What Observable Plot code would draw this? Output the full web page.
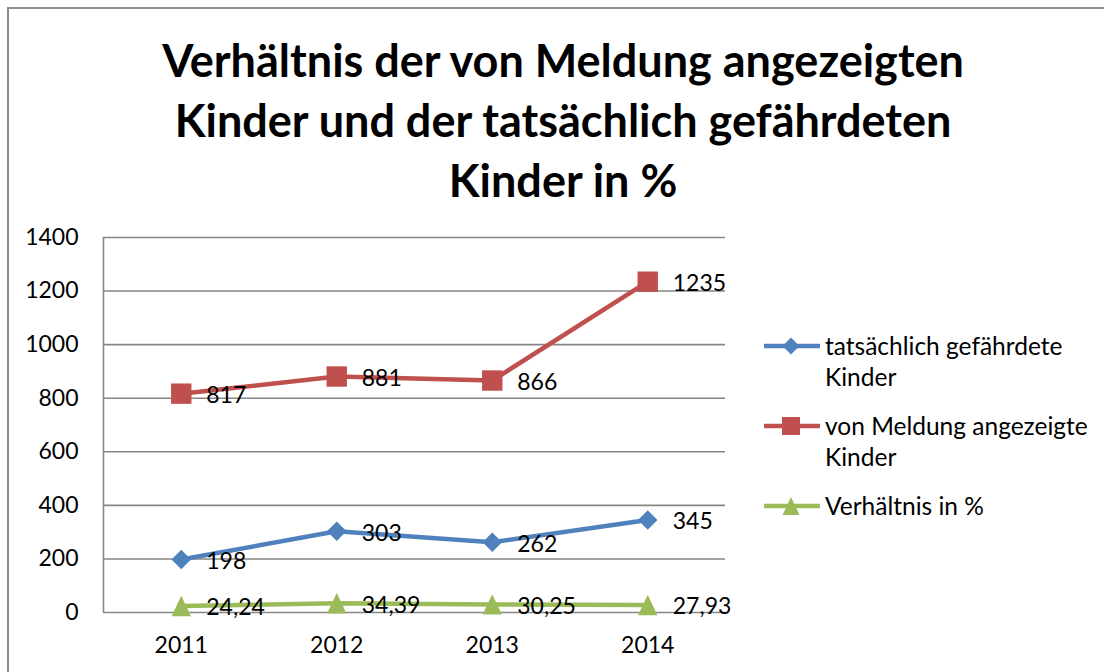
<!DOCTYPE html>
<html>
<head>
<meta charset="utf-8">
<script src="https://cdn.jsdelivr.net/npm/d3@7"></script>
<script src="https://cdn.jsdelivr.net/npm/@observablehq/plot@0.6"></script>
<style>
  html, body { margin: 0; padding: 0; background: #fff; width: 1104px; height: 672px; overflow: hidden; font-family: Lato, "Open Sans", sans-serif; }
  #frame { position: absolute; left: 7px; top: 7px; width: 1200px; height: 800px; border-left: 2px solid #8c8c8c; border-top: 2px solid #8c8c8c; }
  #title { position: absolute; left: 0; top: 30px; width: 1126px; text-align: center; font-weight: 700; font-size: 45px; line-height: 60px; color: #000; }
  #chart { position: absolute; left: 0; top: 220px; }
  #legend { position: absolute; left: 762px; top: 330px; font-size: 24.5px; line-height: 31px; color: #000; }
  .entry { position: relative; padding-left: 63px; margin-bottom: 18px; }
  .entry svg { position: absolute; left: 0; top: 5px; }
</style>
</head>
<body>
<div id="frame"></div>
<div id="title">Verhältnis der von Meldung angezeigten<br>Kinder und der tatsächlich gefährdeten<br>Kinder in %</div>
<div id="chart"></div>
<div id="legend"></div>
<script>
const years = [2011, 2012, 2013, 2014];
const seriesNames = ["tatsächlich gefährdete Kinder", "von Meldung angezeigte Kinder", "Verhältnis in %"];
const gefaehrdet = [198, 303, 262, 345];
const gemeldet = [817, 881, 866, 1235];
const verhaeltnis = [24.24, 34.39, 30.25, 27.93];
const yTicks = [0, 200, 400, 600, 800, 1000, 1200, 1400];
const colors = ["#4F81BD", "#C0504D", "#9BBB59"];

const diamond = {draw(ctx, size) { const r = Math.sqrt(size) * 0.48; ctx.moveTo(0, -r); ctx.lineTo(r, 0); ctx.lineTo(0, r); ctx.lineTo(-r, 0); ctx.closePath(); }};
const square = {draw(ctx, size) { const r = Math.sqrt(size) * 0.5; ctx.rect(-r, -r, 2 * r, 2 * r); }};
const triangle = {draw(ctx, size) { const r = Math.sqrt(size) * 0.5; ctx.moveTo(0, -r); ctx.lineTo(r * 0.95, r); ctx.lineTo(-r * 0.95, r); ctx.closePath(); }};
const symbols = [diamond, square, triangle];
const fmt = v => String(v).replace(".", ",");

const allSeries = [gefaehrdet, gemeldet, verhaeltnis];
const data = [];
allSeries.forEach((vals, si) => vals.forEach((v, i) => data.push({series: seriesNames[si], si, year: years[i], value: v, label: fmt(v)})));

const marks = [
  Plot.ruleY(yTicks, {stroke: "#868686", strokeWidth: 1.6}),
  Plot.ruleX([2010.5], {stroke: "#868686", strokeWidth: 1.6}),
  Plot.axisY({ticks: yTicks, tickSize: 0, tickPadding: 25, fontSize: 23, label: null, tickFormat: d => String(d)}),
  Plot.axisX({ticks: years, tickSize: 0, tickPadding: 24, fontSize: 23, label: null, tickFormat: d => String(d)})
];
allSeries.forEach((vals, si) => {
  const d = data.filter(r => r.si === si);
  marks.push(Plot.line(d, {x: "year", y: "value", stroke: colors[si], strokeWidth: 4.5}));
  marks.push(Plot.dot(d, {x: "year", y: "value", fill: colors[si], stroke: "none", r: 11.5, symbol: symbols[si]}));
});
allSeries.forEach((vals, si) => {
  const d = data.filter(r => r.si === si);
  marks.push(Plot.text(d, {x: "year", y: "value", text: "label", textAnchor: "start", dx: 25, dy: 2, fontSize: 23, fill: "#000"}));
});

const chart = Plot.plot({
  width: 1104,
  height: 452,
  marginLeft: 103,
  marginRight: 379,
  marginTop: 17,
  marginBottom: 60,
  x: {type: "linear", domain: [2010.5, 2014.5]},
  y: {domain: [0, 1400]},
  style: {fontFamily: "Lato, 'Open Sans', sans-serif", fontSize: "22px", color: "#000", background: "transparent", overflow: "visible"},
  marks
});
document.getElementById("chart").appendChild(chart);

// legend
const legend = document.getElementById("legend");
const legendLabels = [["tatsächlich gefährdete", "Kinder"], ["von Meldung angezeigte", "Kinder"], ["Verhältnis in %"]];
const swatchPaths = [
  "M29,-8.5L37.5,0L29,8.5L20.5,0Z",
  "M20,-9H38V9H20Z",
  "M29,-9L37.5,9H20.5Z"
];
legendLabels.forEach((lines, si) => {
  const e = document.createElement("div");
  e.className = "entry";
  e.innerHTML = `<svg width="60" height="22" viewBox="0 -11 60 22"><line x1="2" x2="58" y1="0" y2="0" stroke="${colors[si]}" stroke-width="4.5"/><path d="${swatchPaths[si]}" fill="${colors[si]}"/></svg>` + lines.join("<br>");
  legend.appendChild(e);
});
</script>
</body>
</html>
